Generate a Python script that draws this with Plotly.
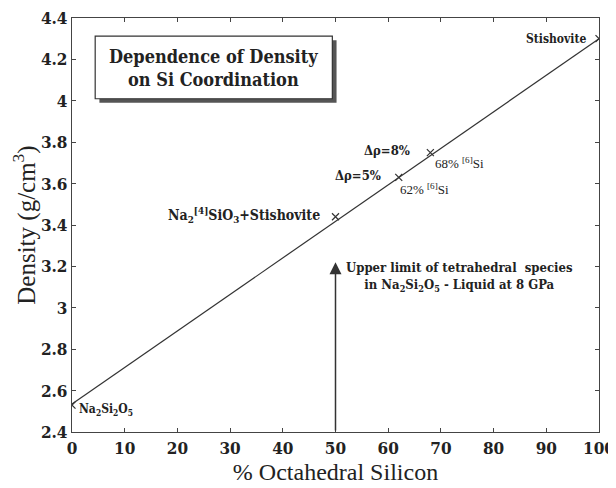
import plotly.graph_objects as go

# measured points (% octahedral Si vs density)
pct_oct = [0, 50, 62, 68, 100]
density = [2.53, 3.44, 3.63, 3.75, 4.30]

# straight trend line between end members
line_x = [0, 100]
line_y = [2.535, 4.30]

x_ticks = list(range(0, 101, 10))
y_ticks = [2.4, 2.6, 2.8, 3.0, 3.2, 3.4, 3.6, 3.8, 4.0, 4.2, 4.4]
y_ticktext = ["2.4", "2.6", "2.8", "3", "3.2", "3.4", "3.6", "3.8", "4", "4.2", "4.4"]

serif = "Liberation Serif"
# bold Times-like face: use the condensed DejaVu serif
bold_serif = "DejaVu Serif Condensed, DejaVu Serif"
ink = "#222222"

fig = go.Figure()

fig.add_trace(go.Scatter(
    x=line_x, y=line_y, mode="lines",
    line=dict(color="#333333", width=1.2),
    showlegend=False, hoverinfo="skip"
))
fig.add_trace(go.Scatter(
    x=pct_oct, y=density, mode="markers",
    marker=dict(symbol="x-thin", size=7, line=dict(color="#333333", width=1.2)),
    showlegend=False
))

# labels on the points
labels = [
    dict(x=98.0, y=4.30, text="<b>Stishovite</b>", xanchor="right", size=12, bold=True),
    dict(x=64.5, y=3.76, text="<b>Δρ=8%</b>", xanchor="right", size=13, bold=True),
    dict(x=68.5, y=3.70, text="68% <sup>[6]</sup>Si", xanchor="left", size=13, bold=False),
    dict(x=59.0, y=3.64, text="<b>Δρ=5%</b>", xanchor="right", size=13, bold=True),
    dict(x=61.8, y=3.575, text="62% <sup>[6]</sup>Si", xanchor="left", size=13, bold=False),
    dict(x=47.5, y=3.45, text="<b>Na<sub>2</sub><sup>[4]</sup>SiO<sub>3</sub>+Stishovite</b>",
         xanchor="right", size=14, bold=True),
    dict(x=1.0, y=2.505, text="<b>Na<sub>2</sub>Si<sub>2</sub>O<sub>5</sub></b>",
         xanchor="left", size=12, bold=True),
    dict(x=73.5, y=3.15,
         text="<b>Upper limit of tetrahedral  species<br>in Na<sub>2</sub>Si<sub>2</sub>O<sub>5</sub> - Liquid at 8 GPa</b>",
         xanchor="center", size=13, bold=True),
]
for a in labels:
    fig.add_annotation(
        x=a["x"], y=a["y"], text=a["text"], xanchor=a["xanchor"], yanchor="middle",
        showarrow=False,
        font=dict(family=bold_serif if a["bold"] else serif, size=a["size"], color=ink)
    )

# arrow marking the upper limit
fig.add_annotation(
    x=50, y=3.22, ax=50, ay=2.4, xref="x", yref="y", axref="x", ayref="y",
    text="", showarrow=True, arrowhead=2, arrowsize=1.6, arrowwidth=1.5,
    arrowcolor="#333333"
)

# title box with shadow
fig.add_shape(type="rect", xref="paper", yref="paper",
              x0=0.052, x1=0.502, y0=0.795, y1=0.946,
              fillcolor="#555555", line=dict(width=0), layer="below")
fig.add_shape(type="rect", xref="paper", yref="paper",
              x0=0.044, x1=0.494, y0=0.805, y1=0.956,
              fillcolor="white", line=dict(color="#333333", width=1.2))
fig.add_annotation(
    x=0.269, y=0.88, xref="paper", yref="paper",
    text="<b>Dependence of Density<br>on Si Coordination</b>",
    showarrow=False, xanchor="center", yanchor="middle",
    font=dict(family=bold_serif, size=18, color=ink)
)

axis_common = dict(
    showline=True, mirror="ticks", linecolor="#444444", linewidth=1.2,
    ticks="inside", ticklen=4, tickcolor="#444444", showgrid=False, zeroline=False,
    tickfont=dict(family=bold_serif, size=17, color=ink, weight="bold"),
    ticklabeloverflow="allow", automargin=False,
)

fig.update_xaxes(
    range=[0, 100], tickvals=x_ticks, ticktext=[str(v) for v in x_ticks],
    title=dict(text="% Octahedral Silicon", font=dict(family=serif, size=24, color=ink),
               standoff=6),
    **axis_common
)
fig.update_yaxes(
    range=[2.4, 4.4], tickvals=y_ticks, ticktext=y_ticktext,
    title=dict(text="Density (g/cm<sup>3</sup>)", font=dict(family=serif, size=25, color=ink),
               standoff=4),
    **axis_common
)

# page body adds an 8px offset, so the figure is drawn 8px smaller
fig.update_layout(
    width=608, height=480,
    margin=dict(l=64, r=17, t=10, b=56),
    plot_bgcolor="white", paper_bgcolor="white",
    font=dict(family=serif, color=ink),
)

fig.write_html("out.html")
